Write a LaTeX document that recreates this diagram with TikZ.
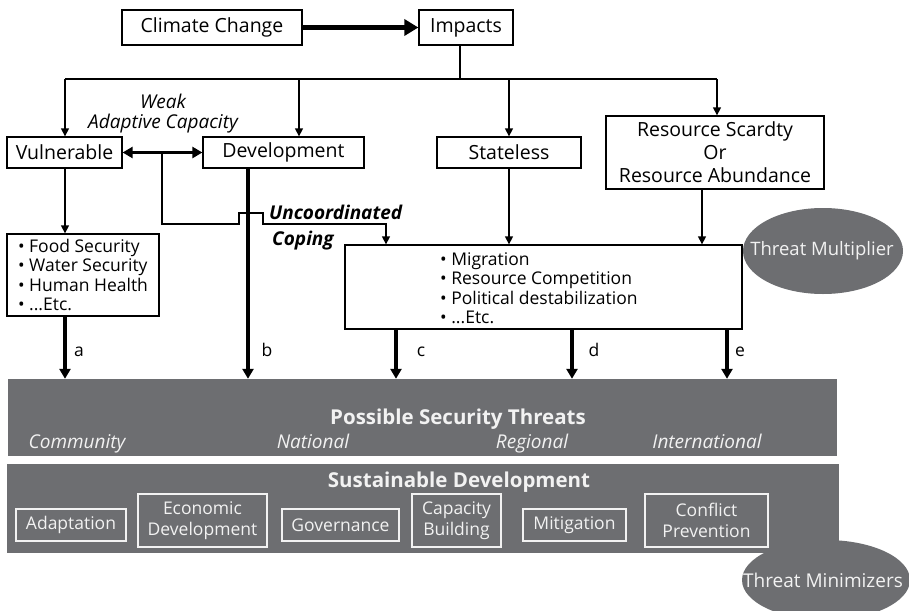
\documentclass[tikz,border=0pt]{standalone}
\usepackage{fontspec}
\setmainfont{Open Sans}
\usetikzlibrary{arrows.meta,shapes.geometric,calc}
\definecolor{bargray}{HTML}{6D6E71}
\definecolor{bartext}{HTML}{F2F2F2}
\begin{document}
\begin{tikzpicture}[x=1pt,y=-1pt,
  every node/.style={font=\fontsize{17.5}{19.5}\selectfont, inner sep=0pt},
  big/.style={font=\fontsize{19.5}{23}\selectfont},
  wbox/.style={draw=black, line width=1.3pt, fill=white, rectangle, align=center},
  gbar/.style={fill=bargray, rectangle},
  gbox/.style={draw=bartext, line width=1.3pt, rectangle, align=center, text=bartext,
    font=\fontsize{17.5}{21}\selectfont},
  gtext/.style={text=bartext},
  thin/.style={line width=1.3pt, -{Triangle[width=8pt,length=8pt]}},
  thinl/.style={line width=1.3pt},
  thick/.style={line width=3.2pt, -{Triangle[width=11pt,length=10pt]}},
  lbl/.style={font=\fontsize{17.5}{19}\selectfont},
  ital/.style={font=\fontsize{19}{20}\selectfont\itshape, anchor=base},
  bital/.style={font=\fontsize{19}{20}\selectfont\bfseries\itshape, anchor=base west},
  title/.style={text=bartext, font=\fontsize{20.5}{22}\selectfont\bfseries, anchor=base},
]
\useasboundingbox (0,0) rectangle (909,610);
\clip (0,0) rectangle (909,610);
\fill[white] (0,0) rectangle (909,610);

% top boxes
\node[wbox, big, minimum width=180, minimum height=35] (cc) at (212,27.5) {Climate Change};
\node[wbox, big, minimum width=94, minimum height=35] (imp) at (466,27.5) {Impacts};
\draw[line width=5pt, -{Triangle[width=16pt,length=14pt]}] (cc.east) -- (imp.west);

% second row
\node[wbox, big, minimum width=115, minimum height=31] (vul) at (64.5,152.5) {Vulnerable};
\node[wbox, big, minimum width=161, minimum height=31] (dev) at (283.5,152.5) {Development};
\node[wbox, big, minimum width=144, minimum height=31] (stl) at (509,152.5) {Stateless};
\node[wbox, big, minimum width=218, minimum height=73] (res) at (715,152.5) {Resource Scardty\\Or\\Resource Abundance};

% third row
\node[wbox, minimum width=152, minimum height=82, align=left] (food) at (83,275)
  {\textbullet\ Food Security\\\textbullet\ Water Security\\\textbullet\ Human Health\\\textbullet\ ...Etc.};
\node[wbox, minimum width=397, minimum height=84] (mig) at (543.5,287) {};
\node[anchor=north west, align=left] (migt) at (440,252)
  {\textbullet\ Migration\\\textbullet\ Resource Competition\\\textbullet\ Political destabilization\\\textbullet\ ...Etc.};

\fill[bargray] (823,251) ellipse [x radius=80, y radius=43];
\node[gtext, font=\fontsize{18.5}{20}\selectfont] (tmul) at (822,251) {Threat Multiplier};

% distribution lines
\coordinate (j0) at (460,79);
\coordinate (jl) at (65,79);
\coordinate (jd) at (299,79);
\coordinate (js) at (509,79);
\coordinate (jr) at (717,79);
\draw[thinl] (imp.south -| j0) -- (j0);
\draw[thinl] (jl) -- (jr);
\draw[thin] (jl) -- (jl |- vul.north);
\draw[thin] (jd) -- (jd |- dev.north);
\draw[thin] (js) -- (js |- stl.north);
\draw[thin] (jr) -- (jr |- res.north);

\node[ital] (weak) at (163,108) {Weak};
\node[ital] (adap) at (163,128) {Adaptive Capacity};

\draw[line width=3.2pt, {Triangle[width=11pt,length=10pt]}-{Triangle[width=11pt,length=10pt]}] (vul.east) -- (dev.west);

\draw[thin] (vul.south -| jl) -- (jl |- food.north);
\draw[thin] (stl.south) -- (stl.south |- mig.north);
\coordinate (rs) at (702,189);
\draw[thin] (rs) -- (rs |- mig.north);

% uncoordinated coping
\coordinate (u0) at (162,153);
\coordinate (u1) at (386,224);
\draw[thin] (u0) -- (162,224) -- (239,224) -- (239,213) -- (263,213) -- (263,224) -- (u1) -- (u1 |- mig.north);
\node[bital] (unc) at (269,219) {Uncoordinated};
\node[bital] (cop) at (272,245) {Coping};

% bars
\node[gbar, minimum width=829, minimum height=77] (bar1) at (422.5,417.5) {};
\node[title] (pst) at (458,424) {Possible Security Threats};
\node[ital, text=bartext] (comm) at (77,448) {Community};
\node[ital, text=bartext] (nat) at (313,448) {National};
\node[ital, text=bartext] (reg) at (532,448) {Regional};
\node[ital, text=bartext] (intl) at (707,448) {International};

% thick arrows to bar
\coordinate (xa) at (65,0);
\coordinate (xb) at (248,0);
\coordinate (xc) at (396,0);
\coordinate (xd) at (572,0);
\coordinate (xe) at (727,0);
\draw[thick] (food.south -| xa) -- (xa |- bar1.north);
\draw[thick] (dev.south -| xb) -- (xb |- bar1.north);
\draw[thick] (mig.south -| xc) -- (xc |- bar1.north);
\draw[thick] (mig.south -| xd) -- (xd |- bar1.north);
\draw[thick] (mig.south -| xe) -- (xe |- bar1.north);
\node[lbl, anchor=base] (la) at (79,356) {a};
\node[lbl, anchor=base] (lb) at (267,356) {b};
\node[lbl, anchor=base] (lc) at (421,356) {c};
\node[lbl, anchor=base] (ld) at (594,356) {d};
\node[lbl, anchor=base] (le) at (740,356) {e};

% sustainable development
\node[gbar, minimum width=832, minimum height=89] (bar2) at (423,508.5) {};
\fill[bargray] (826,580) ellipse [x radius=84, y radius=40];
\node[gtext, font=\fontsize{19}{20}\selectfont] (tmin) at (823,580) {Threat Minimizers};
\node[title] (sd) at (459,487) {Sustainable Development};
\node[gbox, minimum width=110, minimum height=32] (ad) at (71,525) {Adaptation};
\node[gbox, minimum width=129, minimum height=53] (ec) at (202.5,520.5) {Economic\\Development};
\node[gbox, minimum width=117, minimum height=32] (gov) at (340.5,525) {Governance};
\node[gbox, minimum width=89, minimum height=53] (cap) at (456.5,520.5) {Capacity\\Building};
\node[gbox, minimum width=103, minimum height=32] (mit) at (574.5,525) {Mitigation};
\node[gbox, minimum width=123, minimum height=53] (con) at (706.5,520.5) {Conflict\\Prevention};
\end{tikzpicture}
\end{document}
